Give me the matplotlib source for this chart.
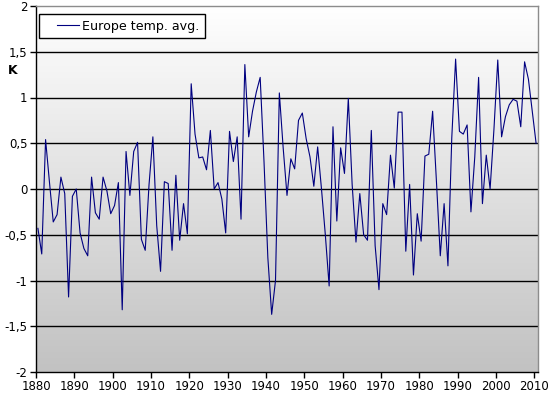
import numpy as np
import matplotlib
matplotlib.use("Agg")
import matplotlib.pyplot as plt
from matplotlib.ticker import FuncFormatter
from matplotlib.legend_handler import HandlerLine2D

years = list(range(1880, 2011))
temps = [
    -0.43, -0.71, 0.54, 0.08, -0.36, -0.28, 0.13, -0.05, -1.18, -0.08,   # 1880s
    0.00, -0.48, -0.65, -0.73, 0.13, -0.26, -0.33, 0.13, -0.02, -0.27,   # 1890s
    -0.18, 0.07, -1.32, 0.41, -0.07, 0.41, 0.51, -0.55, -0.67, 0.05,     # 1900s
    0.57, -0.40, -0.90, 0.08, 0.06, -0.67, 0.15, -0.56, -0.16, -0.49,    # 1910s
    1.15, 0.60, 0.34, 0.35, 0.21, 0.64, 0.00, 0.07, -0.11, -0.48,        # 1920s
    0.63, 0.30, 0.57, -0.33, 1.36, 0.57, 0.85, 1.06, 1.22, 0.30,         # 1930s
    -0.75, -1.37, -1.00, 1.05, 0.45, -0.07, 0.33, 0.22, 0.75, 0.83,      # 1940s
    0.55, 0.35, 0.03, 0.46, 0.00, -0.50, -1.06, 0.68, -0.35, 0.45,       # 1950s
    0.17, 0.99, 0.05, -0.58, -0.05, -0.50, -0.56, 0.64, -0.62, -1.10,    # 1960s
    -0.16, -0.28, 0.37, 0.01, 0.84, 0.84, -0.68, 0.05, -0.94, -0.27,     # 1970s
    -0.57, 0.36, 0.38, 0.85, 0.08, -0.73, -0.16, -0.84, 0.56, 1.42,      # 1980s
    0.63, 0.60, 0.70, -0.25, 0.35, 1.22, -0.16, 0.37, 0.00, 0.65,        # 1990s
    1.41, 0.57, 0.79, 0.92, 0.98, 0.96, 0.68, 1.39, 1.20, 0.85,          # 2000s
    0.50,                                                                # 2010
]
series_name = "Europe temp. avg."
x_ticks = list(range(1880, 2011, 10))
y_ticks = [-2, -1.5, -1, -0.5, 0, 0.5, 1, 1.5, 2]
y_label = "K"

plt.rcParams['font.family'] = ['DejaVu Sans']
fig = plt.figure(figsize=(5.52, 3.97), dpi=100)
ax = fig.add_axes([36/552, 1 - 372/397, (538 - 36)/552, (372 - 6)/397])

# gradient background (white top -> grey bottom)
grad = np.linspace(1.0, 0.0, 256).reshape(-1, 1)
top = np.array([1.0, 1.0, 1.0])
bot = np.array([0.76, 0.76, 0.76])
img = top * grad[..., None] + bot * (1 - grad[..., None])
img = img.reshape(256, 1, 3)
ax.imshow(img, extent=[0, 1, 0, 1], transform=ax.transAxes, aspect='auto',
          zorder=0, interpolation='bilinear')

for v in y_ticks[1:-1]:
    ax.axhline(v, color='black', lw=1.0, zorder=1)

xs = np.array(years) + 0.5
ax.plot(xs, temps, color='#000080', lw=0.8, zorder=3, label=series_name)

ax.set_xlim(1880, 2011)
ax.set_ylim(-2, 2)
ax.set_xticks(x_ticks)
ax.set_xticklabels([str(t) for t in x_ticks])
ax.set_yticks(y_ticks)
ax.yaxis.set_major_formatter(FuncFormatter(lambda v, p: f"{v:g}".replace('.', ',')))
ax.tick_params(axis='both', direction='out', length=4, width=1, labelsize=8.5,
               colors='black', pad=2)

for s in ['left', 'bottom']:
    ax.spines[s].set_color('black')
    ax.spines[s].set_linewidth(1.0)
for s in ['top', 'right']:
    ax.spines[s].set_color('#8c8c8c')
    ax.spines[s].set_linewidth(1.0)

fig.text(13/552, 1 - 70/397, y_label, fontsize=9, fontweight='bold',
         ha='center', va='center')


class ShortLineHandler(HandlerLine2D):
    def create_artists(self, legend, orig_handle, xdescent, ydescent,
                       width, height, fontsize, trans):
        arts = super().create_artists(legend, orig_handle, xdescent, ydescent,
                                      width, height, fontsize, trans)
        x0 = -xdescent
        yc = (height - ydescent) / 2.0
        arts[0].set_data([x0 + width * 0.36, x0 + width], [yc, yc])
        return arts


line = ax.get_lines()[-1]
leg = ax.legend(handles=[line], loc='upper left',
                bbox_to_anchor=(3/502, 1 - 8/366),
                frameon=True, fancybox=False, fontsize=9.1, handlelength=2.7,
                borderpad=0.45, handletextpad=0.25, borderaxespad=0.0,
                handler_map={line: ShortLineHandler()})
leg.get_frame().set_edgecolor('black')
leg.get_frame().set_linewidth(1.0)
leg.get_frame().set_facecolor('white')
leg.get_frame().set_alpha(1.0)

fig.savefig("out.png", dpi=100)
